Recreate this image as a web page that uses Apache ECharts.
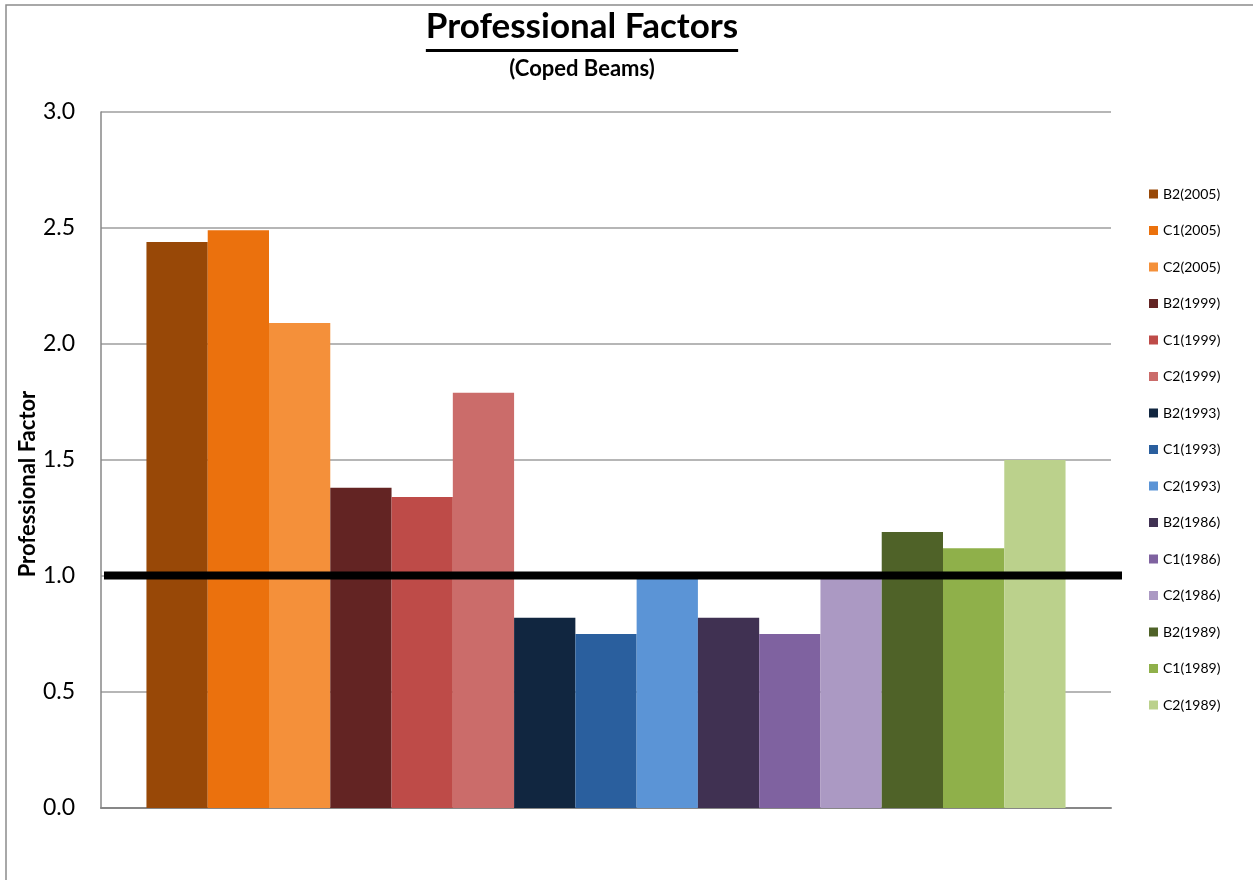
<!DOCTYPE html>
<html>
<head>
<meta charset="utf-8">
<script src="https://cdn.jsdelivr.net/npm/echarts@6/dist/echarts.min.js"></script>
<style>
  html, body { margin: 0; padding: 0; background: #fff; }
  #chart { width: 1253px; height: 880px; }
</style>
</head>
<body>
<div id="chart"></div>
<script>
// Coped beam specimens, one bar each
const categories = [
  'B2(2005)', 'C1(2005)', 'C2(2005)',
  'B2(1999)', 'C1(1999)', 'C2(1999)',
  'B2(1993)', 'C1(1993)', 'C2(1993)',
  'B2(1986)', 'C1(1986)', 'C2(1986)',
  'B2(1989)', 'C1(1989)', 'C2(1989)'
];
// Professional factor per specimen
const values = [
  2.44, 2.49, 2.09,
  1.38, 1.34, 1.79,
  0.82, 0.75, 1.00,
  0.82, 0.75, 1.00,
  1.19, 1.12, 1.50
];
const colors = [
  '#984807', '#EB710D', '#F4903A',
  '#632423', '#BE4B48', '#CB6C6A',
  '#112640', '#2A5F9E', '#5B94D6',
  '#403152', '#7F62A0', '#AB99C3',
  '#4F6228', '#8FB04A', '#BBD18C'
];
// Value axis ticks
const yMin = 0, yMax = 3, yStep = 0.5;
// Reference level drawn across the plot
const referenceLevel = 1.0;

const titleText = 'Professional Factors';
const subtitleText = '(Coped Beams)';
const titleSize = 35;
const titleX = 582;

function textWidth(size, str) {
  const ctx = document.createElement('canvas').getContext('2d');
  ctx.font = 'bold ' + size + 'px Lato';
  return ctx.measureText(str).width;
}
const titleW = textWidth(titleSize, titleText);

const chart = echarts.init(document.getElementById('chart'), null, { renderer: 'canvas' });

const series = categories.map((name, i) => ({
  type: 'bar',
  name: name,
  data: [values[i]],
  itemStyle: { color: colors[i] },
  barGap: '0%',
  barCategoryGap: '9%',
  z: 2
}));

chart.setOption({
  backgroundColor: '#ffffff',
  animation: false,
  grid: { left: 101, right: 142, top: 112, bottom: 72, containLabel: false },
  legend: {
    orient: 'vertical',
    left: 1149,
    top: 186,
    padding: 0,
    icon: 'rect',
    itemWidth: 9,
    itemHeight: 9,
    itemGap: 20.5,
    data: categories,
    textStyle: { fontFamily: 'Lato', fontSize: 14, color: '#000', lineHeight: 16 }
  },
  xAxis: {
    type: 'category',
    data: [''],
    axisLine: { show: true, lineStyle: { color: '#878787', width: 2 } },
    axisTick: { show: false },
    axisLabel: { show: false },
    splitLine: { show: false }
  },
  yAxis: {
    type: 'value',
    min: yMin,
    max: yMax,
    interval: yStep,
    axisLine: { show: true, lineStyle: { color: '#878787', width: 1.5 } },
    axisTick: { show: false },
    axisLabel: {
      formatter: v => v.toFixed(1),
      fontFamily: 'Lato',
      fontSize: 23,
      color: '#000',
      margin: 26
    },
    splitLine: { show: true, lineStyle: { color: '#9E9E9E', width: 1.5 } }
  },
  series: series,
  graphic: [
    {
      id: 'frame',
      type: 'rect',
      shape: { x: 6, y: 5, width: 1400, height: 1000 },
      style: { fill: null, stroke: '#8C8C8C', lineWidth: 1.5 },
      silent: true
    },
    {
      id: 'title',
      type: 'text',
      x: titleX,
      y: 9,
      style: {
        text: titleText,
        fontFamily: 'Lato',
        fontWeight: 'bold',
        fontSize: titleSize,
        fill: '#000',
        align: 'center',
        verticalAlign: 'top'
      }
    },
    {
      id: 'titleUnderline',
      type: 'line',
      shape: { x1: titleX - titleW / 2, y1: 50.5, x2: titleX + titleW / 2, y2: 50.5 },
      style: { stroke: '#000', lineWidth: 3 }
    },
    {
      id: 'subtitle',
      type: 'text',
      x: titleX,
      y: 58,
      style: {
        text: subtitleText,
        fontFamily: 'Lato',
        fontWeight: 'bold',
        fontSize: 22,
        fill: '#000',
        align: 'center',
        verticalAlign: 'top'
      }
    },
    {
      id: 'yName',
      type: 'text',
      x: 28,
      y: 484,
      rotation: Math.PI / 2,
      style: {
        text: 'Professional Factor',
        fontFamily: 'Lato',
        fontWeight: 'bold',
        fontSize: 22,
        fill: '#000',
        align: 'center',
        verticalAlign: 'middle'
      }
    }
  ]
});

// Thick reference line at the factor of 1.0, placed through the value axis scale
const refY = chart.convertToPixel({ yAxisIndex: 0 }, referenceLevel);
chart.setOption({
  graphic: [{
    id: 'refLine',
    type: 'line',
    shape: { x1: 104, y1: refY - 0.5, x2: 1122, y2: refY - 0.5 },
    style: { stroke: '#000', lineWidth: 8 },
    z: 10
  }]
});
</script>
</body>
</html>
